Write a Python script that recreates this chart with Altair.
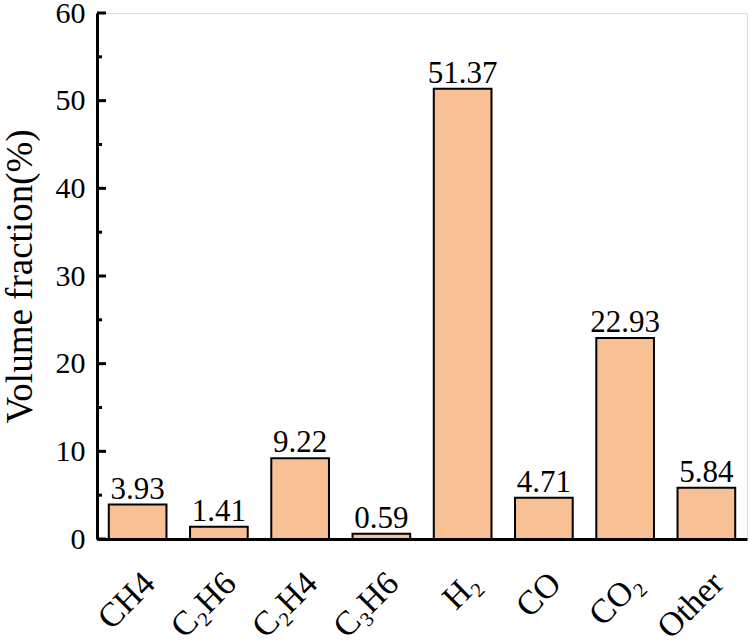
import altair as alt
import pandas as pd

# Gas composition of the product stream
gases = ["CH4", "C₂H6", "C₂H4", "C₃H6", "H₂", "CO", "CO₂", "Other"]
fractions = [3.93, 1.41, 9.22, 0.59, 51.37, 4.71, 22.93, 5.84]

major_ticks = [0, 10, 20, 30, 40, 50, 60]
minor_ticks = [5, 15, 25, 35, 45, 55]

FONT = "Liberation Serif"
BAR_COLOR = "#F8C195"

df = pd.DataFrame({"gas": gases, "fraction": fractions})
major_df = pd.DataFrame({"v": major_ticks})
minor_df = pd.DataFrame({"v": minor_ticks})

y_scale = alt.Scale(domain=[0, 60], nice=False, zero=True)
x_enc = alt.X(
    "gas:N",
    sort=gases,
    scale=alt.Scale(paddingInner=0.29, paddingOuter=0.145),
    axis=alt.Axis(
        title=None,
        labelAngle=-45,
        labelAlign="right",
        labelBaseline="top",
        labelFont=FONT,
        labelFontSize=34,
        labelColor="black",
        labelPadding=27,
        labelLimit=300,
        ticks=False,
        domain=True,
        domainColor="black",
        domainWidth=3,
    ),
)

bars = alt.Chart(df).mark_bar(
    color=BAR_COLOR, stroke="black", strokeWidth=2
).encode(
    x=x_enc,
    y=alt.Y(
        "fraction:Q",
        scale=y_scale,
        axis=alt.Axis(
            title="Volume fraction(%)",
            titleFont=FONT,
            titleFontSize=37,
            titleFontWeight="normal",
            titleColor="black",
            titlePadding=16,
            values=major_ticks,
            labelFont=FONT,
            labelFontSize=30,
            labelColor="black",
            labelPadding=12,
            ticks=False,
            grid=False,
            domainColor="black",
            domainWidth=3,
        ),
    ),
)

labels = alt.Chart(df).mark_text(
    font=FONT, fontSize=31, baseline="alphabetic", dy=-6, color="black"
).encode(
    x=alt.X("gas:N", sort=gases),
    y=alt.Y("fraction:Q", scale=y_scale),
    text=alt.Text("fraction:Q", format=".2f"),
)

# Inward-pointing ticks on the value axis
major = alt.Chart(major_df).mark_rule(color="black", strokeWidth=3).encode(
    y=alt.Y("v:Q", scale=y_scale),
    x=alt.value(0),
    x2=alt.value(9),
)
minor = alt.Chart(minor_df).mark_rule(color="black", strokeWidth=3).encode(
    y=alt.Y("v:Q", scale=y_scale),
    x=alt.value(0),
    x2=alt.value(5),
)

chart = (
    alt.layer(bars, labels, major, minor)
    .properties(
        width=650,
        height=526,
        autosize=alt.AutoSizeParams(type="none"),
        padding={"left": 97, "top": 13, "right": 3, "bottom": 102},
    )
    .configure_view(stroke="black", strokeWidth=3)
    .configure(background="white")
)

chart.save("out.html", embed_options={"renderer": "svg", "actions": False})
